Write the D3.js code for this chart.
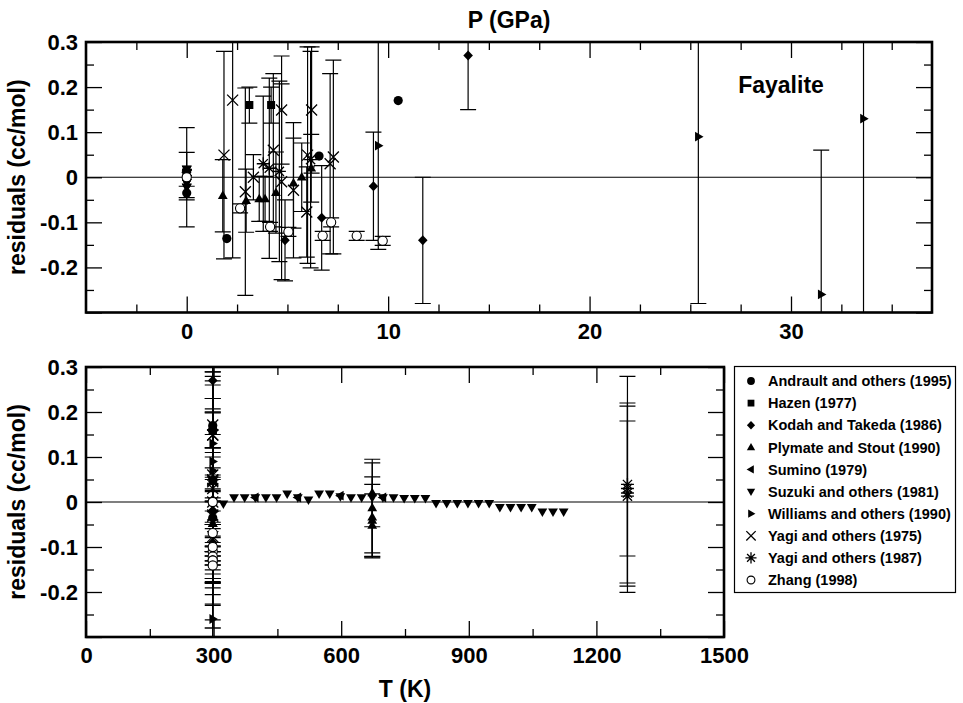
<!DOCTYPE html>
<html>
<head>
<meta charset="utf-8">
<script src="https://cdn.jsdelivr.net/npm/d3@7"></script>
<style>
  body { margin: 0; background: #fff; }
  svg { display: block; }
  text { font-family: "Liberation Sans", Arial, Helvetica, sans-serif; font-weight: bold; fill: #000; }
</style>
</head>
<body>
<svg id="chart" width="963" height="703"></svg>
<script>
// Volume residuals of fayalite against pressure (top) and temperature (bottom).
// Each record: P (GPa), T (K), r = residual (cc/mol), s = one-sigma uncertainty (cc/mol).

const sourceNames = [
  "Andrault and others (1995)",
  "Hazen (1977)",
  "Kodah and Takeda (1986)",
  "Plymate and Stout (1990)",
  "Sumino (1979)",
  "Suzuki and others (1981)",
  "Williams and others (1990)",
  "Yagi and others (1975)",
  "Yagi and others (1987)",
  "Zhang (1998)"
];

const andrault = [
  { P: 0.0,  T: 298, r: -0.035, s: 0.015 },
  { P: 1.99, T: 298, r: -0.136, s: 0 },
  { P: 6.57, T: 298, r: 0.047,  s: 0 },
  { P: 10.5, T: 298, r: 0.17,   s: 0 }
];

const hazen = [
  { P: 3.11, T: 298, r: 0.16, s: 0.04 },
  { P: 4.19, T: 298, r: 0.16, s: 0.04 }
];

const kodah = [
  { P: 0.0,   T: 298, r: 0.005, s: 0.05 },
  { P: 4.88,  T: 298, r: -0.14, s: 0.09 },
  { P: 6.7,   T: 298, r: -0.09, s: 0.116 },
  { P: 9.27,  T: 298, r: -0.02, s: 0.12 },
  { P: 11.72, T: 298, r: -0.14, s: 0.14 },
  { P: 13.97, T: 298, r: 0.27,  s: 0.12 }
];

const plymate = [
  { P: 1.79, T: 673, r: -0.041, s: 0.08 },
  { P: 2.95, T: 673, r: -0.052, s: 0.07 },
  { P: 3.6,  T: 298, r: -0.048, s: 0.05 },
  { P: 3.89, T: 298, r: -0.048, s: 0.05 },
  { P: 4.43, T: 673, r: -0.034, s: 0.09 },
  { P: 5.3,  T: 673, r: -0.013, s: 0.1 },
  { P: 5.71, T: 298, r: 0.0,    s: 0.076 },
  { P: 6.18, T: 673, r: 0.02,   s: 0.075 }
];

const sumino = [
  { P: 0, T: 398, r: 0.01,  s: 0 },
  { P: 0, T: 498, r: 0.01,  s: 0 },
  { P: 0, T: 598, r: 0.014, s: 0 },
  { P: 0, T: 698, r: 0.01,  s: 0 }
];

const suzukiT = [323, 348, 373, 398, 423, 448, 473, 498, 523, 548, 573, 598, 623, 648, 673, 698, 723,
                 748, 773, 798, 823, 848, 873, 898, 923, 948, 973, 998, 1023, 1048, 1073, 1098, 1123];
const suzukiR = [-0.004, 0.01, 0.01, 0.01, 0.01, 0.01, 0.018, 0.01, 0.005, 0.018, 0.018, 0.012, 0.01, 0.01, 0.01, 0.01, 0.01,
                 0.008, 0.008, 0.008, -0.003, -0.003, -0.003, -0.003, -0.003, -0.003, -0.012, -0.012, -0.012, -0.012, -0.022, -0.022, -0.022];
const suzuki = suzukiT.map((t, i) => ({ P: 0, T: t, r: suzukiR[i], s: 0 }));

const williams = [
  { P: 9.51, T: 298, r: 0.07,  s: 0.23 },
  { P: 25.4, T: 298, r: 0.09,  s: 0.37 },
  { P: 31.5, T: 298, r: -0.26, s: 0.32 },
  { P: 33.6, T: 298, r: 0.13,  s: 0.5 }
];

const yagi1975 = [
  { P: 1.85, T: 298, r: 0.049,  s: 0.23 },
  { P: 2.28, T: 298, r: 0.171,  s: 0.35 },
  { P: 2.91, T: 298, r: -0.032, s: 0.23 },
  { P: 3.31, T: 298, r: 0.0,    s: 0.05 },
  { P: 4.3,  T: 298, r: 0.06,   s: 0.17 },
  { P: 4.71, T: 298, r: 0.149,  s: 0.12 },
  { P: 4.71, T: 298, r: -0.01,  s: 0.217 },
  { P: 5.3,  T: 298, r: -0.029, s: 0.15 },
  { P: 5.96, T: 298, r: -0.077, s: 0.1 },
  { P: 6.2,  T: 298, r: 0.149,  s: 0.14 },
  { P: 6.0,  T: 298, r: 0.049,  s: 0.24 },
  { P: 7.28, T: 298, r: 0.045,  s: 0.215 },
  { P: 7.12, T: 298, r: 0.03,   s: 0.2 }
];

const yagi1987 = [
  { P: 3.8,  T: 1273, r: 0.03,  s: 0.15 },
  { P: 4.1,  T: 1273, r: 0.02,  s: 0.2 },
  { P: 4.6,  T: 1273, r: 0.013, s: 0.2 },
  { P: 6.15, T: 1273, r: 0.039, s: 0.24 }
];

const zhang = [
  { P: 0.0,  T: 298, r: 0.0,    s: 0.11 },
  { P: 2.65, T: 298, r: -0.069, s: 0.01 },
  { P: 4.14, T: 298, r: -0.11,  s: 0.01 },
  { P: 5.05, T: 298, r: -0.121, s: 0.01 },
  { P: 6.75, T: 298, r: -0.13,  s: 0.01 },
  { P: 7.17, T: 298, r: -0.1,   s: 0.01 },
  { P: 8.44, T: 298, r: -0.13,  s: 0.01 },
  { P: 9.73, T: 298, r: -0.141, s: 0.01 }
];

const pTickLabels = [0, 10, 20, 30];
const tTickLabels = [0, 300, 600, 900, 1200, 1500];
const rTickLabels = [-0.2, -0.1, 0, 0.1, 0.2, 0.3];

// ---------------------------------------------------------------------------

const seriesData = [andrault, hazen, kodah, plymate, sumino, suzuki, williams, yagi1975, yagi1987, zhang];
const seriesMarker = ["circle", "square", "diamond", "triUp", "triLeft", "triDown", "triRight", "times", "star", "ring"];

function markerPath(kind, k) {
  const p = d3.path();
  const s = k || 1;
  switch (kind) {
    case "circle": case "ring":
      p.arc(0, 0, 4.6 * s, 0, 2 * Math.PI); break;
    case "square":
      p.rect(-4 * s, -4 * s, 8 * s, 8 * s); break;
    case "diamond":
      p.moveTo(0, -5 * s); p.lineTo(4.8 * s, 0); p.lineTo(0, 5 * s); p.lineTo(-4.8 * s, 0); p.closePath(); break;
    case "triUp":
      p.moveTo(0, -5.2 * s); p.lineTo(4.9 * s, 3.3 * s); p.lineTo(-4.9 * s, 3.3 * s); p.closePath(); break;
    case "triDown":
      p.moveTo(0, 5.2 * s); p.lineTo(4.9 * s, -3.3 * s); p.lineTo(-4.9 * s, -3.3 * s); p.closePath(); break;
    case "triLeft":
      p.moveTo(-5.2 * s, 0); p.lineTo(3.3 * s, -4.9 * s); p.lineTo(3.3 * s, 4.9 * s); p.closePath(); break;
    case "triRight":
      p.moveTo(5.2 * s, 0); p.lineTo(-3.3 * s, -4.9 * s); p.lineTo(-3.3 * s, 4.9 * s); p.closePath(); break;
    case "times":
      p.moveTo(-5.5 * s, -5.5 * s); p.lineTo(5.5 * s, 5.5 * s);
      p.moveTo(-5.5 * s, 5.5 * s); p.lineTo(5.5 * s, -5.5 * s); break;
    case "star":
      p.moveTo(-6.5 * s, 0); p.lineTo(6.5 * s, 0);
      p.moveTo(0, -6.5 * s); p.lineTo(0, 6.5 * s);
      p.moveTo(-4.6 * s, -4.6 * s); p.lineTo(4.6 * s, 4.6 * s);
      p.moveTo(-4.6 * s, 4.6 * s); p.lineTo(4.6 * s, -4.6 * s); break;
  }
  return p.toString();
}

function styleMarker(sel, kind) {
  if (kind === "times" || kind === "star") {
    sel.attr("fill", "none").attr("stroke", "#000").attr("stroke-width", 1.3);
  } else if (kind === "ring") {
    sel.attr("fill", "#fff").attr("stroke", "#000").attr("stroke-width", 1.1);
  } else {
    sel.attr("fill", "#000").attr("stroke", "none");
  }
}

const svg = d3.select("#chart");
const FONT = 22;

function drawPanel(opts) {
  const { id, x, y, xKey, xMajor, xMinor } = opts;
  const [x0, x1] = x.range();
  const [y0, y1] = [y.range()[1], y.range()[0]]; // top, bottom
  const g = svg.append("g");

  svg.append("defs").append("clipPath").attr("id", id)
    .append("rect").attr("x", x0).attr("y", y0).attr("width", x1 - x0).attr("height", y1 - y0);

  const rMinor = d3.range(-0.25, 0.3, 0.1).map(v => +v.toFixed(2));
  const rMajor = [-0.3, -0.2, -0.1, 0, 0.1, 0.2, 0.3];

  function axisGroup(axis, transform, labels) {
    const a = g.append("g").attr("transform", transform).call(axis);
    a.select(".domain").remove();
    a.selectAll(".tick line").attr("stroke", "#000").attr("stroke-width", 1.3);
    a.attr("font-size", FONT).attr("font-family", null);
    if (!labels) a.selectAll(".tick text").remove();
    return a;
  }

  // minor ticks, all four sides
  axisGroup(d3.axisBottom(x).tickValues(xMinor).tickSize(-8).tickFormat(""), `translate(0,${y1})`, false);
  axisGroup(d3.axisTop(x).tickValues(xMinor).tickSize(-8).tickFormat(""), `translate(0,${y0})`, false);
  axisGroup(d3.axisLeft(y).tickValues(rMinor).tickSize(-8).tickFormat(""), `translate(${x0},0)`, false);
  axisGroup(d3.axisRight(y).tickValues(rMinor).tickSize(-8).tickFormat(""), `translate(${x1},0)`, false);

  // major ticks with labels on bottom and left
  axisGroup(d3.axisBottom(x).tickValues(xMajor).tickSize(-16).tickPadding(10.5).tickFormat(d3.format("d")),
            `translate(0,${y1})`, true);
  axisGroup(d3.axisTop(x).tickValues(xMajor).tickSize(-16).tickFormat(""), `translate(0,${y0})`, false);
  const yl = axisGroup(d3.axisLeft(y).tickValues(rMajor).tickSize(-16).tickPadding(8)
            .tickFormat(d => rTickLabels.includes(d) ? (d === 0 ? "0" : d3.format(".1f")(d).replace("\u2212", "-")) : ""),
            `translate(${x0},0)`, true);
  axisGroup(d3.axisRight(y).tickValues(rMajor).tickSize(-16).tickFormat(""), `translate(${x1},0)`, false);

  // zero line
  g.append("line").attr("x1", x0).attr("x2", x1).attr("y1", y(0)).attr("y2", y(0))
    .attr("stroke", "#000").attr("stroke-width", 1.2);

  const data = g.append("g").attr("clip-path", `url(#${id})`);

  // error bars
  seriesData.forEach(series => {
    const withErr = series.filter(d => d.s > 0);
    const eb = data.append("g").attr("stroke", "#000").attr("stroke-width", 1.2).attr("fill", "none");
    eb.selectAll("path").data(withErr).join("path")
      .attr("d", d => {
        const cx = x(d[xKey]), ya = y(d.r + d.s), yb = y(d.r - d.s);
        return `M${cx},${ya}V${yb}M${cx - 8},${ya}H${cx + 8}M${cx - 8},${yb}H${cx + 8}`;
      });
  });

  // markers
  seriesData.forEach((series, i) => {
    const kind = seriesMarker[i];
    const m = data.append("g").selectAll("path").data(series).join("path")
      .attr("d", markerPath(kind))
      .attr("transform", d => `translate(${x(d[xKey])},${y(d.r)})`);
    styleMarker(m, kind);
  });

  // frame
  g.append("rect").attr("x", x0).attr("y", y0).attr("width", x1 - x0).attr("height", y1 - y0)
    .attr("fill", "none").attr("stroke", "#000").attr("stroke-width", 2.6);

  // y title
  g.append("text").attr("transform", `translate(25,${(y0 + y1) / 2}) rotate(-90)`)
    .attr("text-anchor", "middle").attr("font-size", 23).text("residuals (cc/mol)");
}

const xTop = d3.scaleLinear().domain([-5, 37]).range([86, 932]);
const yTop = d3.scaleLinear().domain([-0.3, 0.3]).range([312.5, 42]);
const xBot = d3.scaleLinear().domain([0, 1500]).range([86, 724]);
const yBot = d3.scaleLinear().domain([-0.3, 0.3]).range([637, 367]);

drawPanel({ id: "clipTop", x: xTop, y: yTop, xKey: "P",
  xMajor: pTickLabels, xMinor: d3.range(-2.5, 37, 2.5).filter(v => v % 10 !== 0) });
drawPanel({ id: "clipBot", x: xBot, y: yBot, xKey: "T",
  xMajor: tTickLabels, xMinor: d3.range(150, 1500, 300) });

// axis titles
svg.append("text").attr("x", 509).attr("y", 28).attr("text-anchor", "middle").attr("font-size", 23).text("P (GPa)");
svg.append("text").attr("x", 405).attr("y", 697).attr("text-anchor", "middle").attr("font-size", 23).text("T (K)");

// panel annotation
svg.append("text").attr("x", 781).attr("y", 93).attr("text-anchor", "middle").attr("font-size", 23).text("Fayalite");

// legend
const legend = svg.append("g");
legend.append("rect").attr("x", 734.5).attr("y", 366.5).attr("width", 221).attr("height", 226)
  .attr("fill", "#fff").attr("stroke", "#000").attr("stroke-width", 1.2);
const rowY = d3.scalePoint().domain(sourceNames).range([381, 580]);
sourceNames.forEach((name, i) => {
  const kind = seriesMarker[i];
  const m = legend.append("path").attr("d", markerPath(kind, 0.85))
    .attr("transform", `translate(751,${rowY(name)})`);
  styleMarker(m, kind);
  legend.append("text").attr("x", 768).attr("y", rowY(name)).attr("dy", "0.36em")
    .attr("font-size", 14.5).text(name);
});
</script>
</body>
</html>
